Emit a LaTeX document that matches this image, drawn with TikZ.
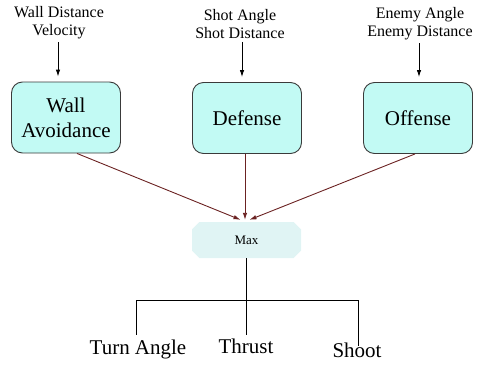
\documentclass[tikz,border=0pt]{standalone}
\usepackage{fontspec}
\setmainfont{Liberation Serif}
\usetikzlibrary{arrows.meta,shapes.misc}
\definecolor{boxfill}{HTML}{C2FAF4}
\definecolor{boxedge}{HTML}{3A3A3A}
\definecolor{maxfill}{HTML}{E0F4F4}
\definecolor{wire}{HTML}{6B2222}
\begin{document}
\begin{tikzpicture}[x=1pt,y=-1pt,
  behaviour/.style={draw=boxedge, fill=boxfill, rounded corners=11pt, line width=0.9pt,
    minimum width=109pt, minimum height=71pt, align=center, inner sep=0pt,
    font=\rmfamily\fontsize{21}{25}\selectfont},
  sensor/.style={align=center, inner sep=0pt, font=\rmfamily\fontsize{16}{18}\selectfont},
  maxbox/.style={chamfered rectangle, chamfered rectangle xsep=5pt, fill=maxfill,
    minimum width=109pt, minimum height=36pt, inner sep=0pt,
    font=\rmfamily\fontsize{13}{15}\selectfont},
  actuator/.style={anchor=base, inner sep=0pt, font=\rmfamily\fontsize{21}{24}\selectfont},
  arrowin/.style={-{Latex[length=7pt,width=4.5pt]}, line width=0.9pt, black,
    shorten <=3pt, shorten >=5pt},
  feed/.style={-{Latex[length=7pt,width=4.5pt]}, line width=0.9pt, draw=wire},
  tree/.style={line width=0.9pt, black}]
\useasboundingbox (0,0) rectangle (478,364);

% sensor inputs
\node[sensor] (wl) at (59,23) {Wall Distance\\Velocity};
\node[sensor] (dl) at (240,24) {Shot Angle\\Shot Distance};
\node[sensor] (ol) at (420,24) {Enemy Angle\\Enemy Distance};

% behaviours
\node[behaviour] (wall) at (66,117.5) {Wall\\Avoidance};
\node[behaviour] (def) at (247,118) {Defense};
\node[behaviour] (off) at (418,118) {Offense};

% arbitration
\node[maxbox] (max) at (246.5,240) {Max};

% outputs
\node[actuator] (turn) at (138,354) {Turn Angle};
\node[actuator] (thr) at (246,353) {Thrust};
\node[actuator] (sht) at (357,357) {Shoot};

% inputs into behaviours
\draw[arrowin] ([xshift=-1pt]wl.south) -- ([xshift=-1pt]wl.south |- wall.north);
\draw[arrowin] ([xshift=2pt]dl.south) -- ([xshift=2pt]dl.south |- def.north);
\draw[arrowin] ([xshift=-1pt]ol.south) -- ([xshift=-1pt]ol.south |- off.north);

% behaviours into max
\draw[feed] ([xshift=11pt]wall.south) -- ([xshift=-6pt,yshift=2pt]max.north);
\draw[feed] ([xshift=-2pt]def.south) -- ([xshift=-1.5pt,yshift=2pt]max.north);
\draw[feed] ([xshift=-3pt]off.south) -- ([xshift=3pt,yshift=2pt]max.north);

% max into outputs
\coordinate (split) at (246,300);
\draw[tree] (thr.north |- max.south) -- ([yshift=3.5pt]thr.north);
\draw[tree] (split) -| ([xshift=-2pt,yshift=4.5pt]turn.north);
\draw[tree] (split) -| ([xshift=1pt,yshift=-4pt]sht.north);
\end{tikzpicture}
\end{document}
